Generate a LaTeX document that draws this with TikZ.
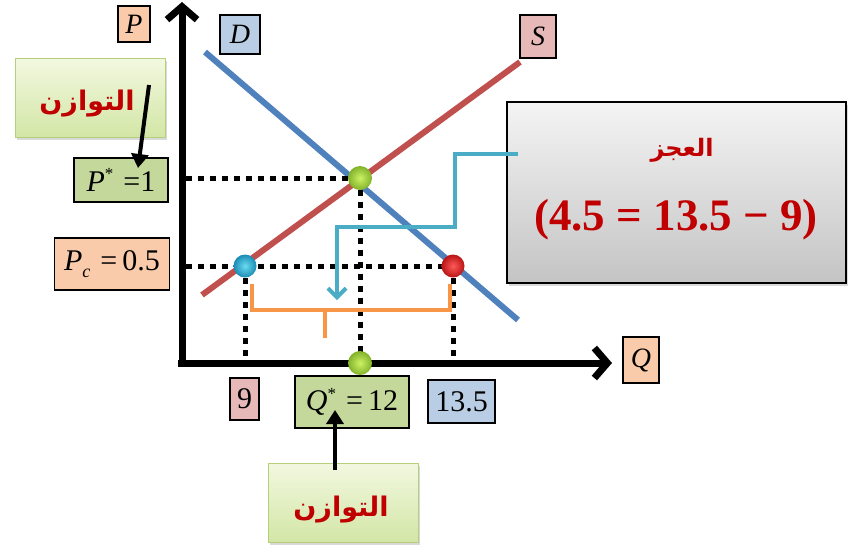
\documentclass[tikz,border=0pt]{standalone}
\usepackage{fontspec}
\setmainfont{Liberation Serif}
\newfontfamily\arabicfont[Script=Arabic]{DejaVu Sans}
\TeXXeTstate=1
\usetikzlibrary{arrows.meta,shadows}
\definecolor{lblorange}{HTML}{F9CBAA}
\definecolor{lblgreen}{HTML}{C4D89B}
\definecolor{lblpink}{HTML}{E6B9B8}
\definecolor{lblblue}{HTML}{B9CDE5}
\definecolor{demandc}{HTML}{4F81BD}
\definecolor{supplyc}{HTML}{C0504D}
\definecolor{cyanc}{HTML}{4BACC6}
\definecolor{bracec}{HTML}{F79646}
\definecolor{calltop}{HTML}{F2F8E0}
\definecolor{callbot}{HTML}{D3E6A6}
\definecolor{callline}{HTML}{B5CF7A}
\definecolor{txtred}{HTML}{C00000}
\definecolor{greytop}{HTML}{F4F4F4}
\definecolor{greybot}{HTML}{C4C4C4}
\definecolor{gin}{HTML}{CCF266}
\definecolor{gout}{HTML}{82B22A}
\definecolor{bin}{HTML}{6ADCF2}
\definecolor{bout}{HTML}{1A8CB4}
\definecolor{rin}{HTML}{FF5A5A}
\definecolor{rout}{HTML}{B81414}
\begin{document}
\begin{tikzpicture}[x=1pt,y=-1pt,
  lbl/.style={draw=black, line width=1.2pt, inner sep=0pt, font=\fontsize{30}{32}\selectfont},
  axlbl/.style={lbl, font=\itshape\fontsize{28}{30}\selectfont},
  callout/.style={draw=callline, line width=0.8pt, top color=calltop, bottom color=callbot,
    drop shadow={opacity=0.3,shadow xshift=2pt,shadow yshift=-3pt},
    minimum width=150pt, minimum height=79pt, inner sep=0pt},
  arab/.style={text=txtred, font=\arabicfont\bfseries\fontsize{27}{30}\selectfont},
  axisline/.style={line width=7pt, -{Straight Barb[length=13pt,width=30pt]}},
  dots/.style={line width=5pt, dash pattern=on 6pt off 6pt},
  ball/.style={circle, minimum size=24pt, inner sep=0pt},
  ptr/.style={line width=4pt, -{Triangle[length=14pt,width=17pt]}},
  curve/.style={line width=6pt},
  bracket/.style={bracec, line width=4pt},
]
\useasboundingbox (0,0) rectangle (849,550);

% big grey box
\node[draw=black, line width=1.5pt, top color=greytop, bottom color=greybot,
  drop shadow={opacity=0.3,shadow xshift=2pt,shadow yshift=-3pt},
  minimum width=339pt, minimum height=181pt, inner sep=0pt] (gbox) at (676.5,192.5) {};
\node[arab, font=\arabicfont\bfseries\fontsize{24}{28}\selectfont] (ajz) at (682,150) {\beginR العجز\endR};
\node[text=txtred, font=\bfseries\fontsize{45}{48}\selectfont] (eqn) at (676,220)
  {(4.5 = 13.5 − 9)};

% curves
\coordinate (D0) at (205,52); \coordinate (D1) at (518,320);
\coordinate (S0) at (202,295); \coordinate (S1) at (520,62);
\draw[demandc, curve] (D0) -- (D1);
\draw[supplyc, curve] (S0) -- (S1);

% key points
\coordinate (O) at (182,363);
\coordinate (E) at (360,178);
\coordinate (Eq) at (360,363);
\coordinate (B) at (245,266);
\coordinate (R) at (453,266);
\coordinate (yP) at (186,178);
\coordinate (yPc) at (186,266);

% dotted guides
\draw[dots] (yP) -- (E);
\draw[dots] (yPc) -- (R);
\draw[dots] (E) -- (Eq);
\draw[dots] (B) -- (B|-O);
\draw[dots] (R) -- (R|-O);

% bracket
\draw[bracket] (252,284) -- (252,310) -- (450,310) -- (450,284);
\draw[bracket] (325,310) -- (325,338);

% cyan connector from box
\coordinate (cy0) at (518,154);
\coordinate (cy1) at (337,300);
\draw[cyanc, line width=4pt, -{Straight Barb[length=9pt,width=18pt]}]
  (cy0) -- (455,154) -- (455,227) -- (337,227) -- (cy1);

% axes
\draw[axisline] (182,367) -- (182,2);
\draw[axisline] (178,363) -- (612,363);

% balls
\node[ball, inner color=gin, outer color=gout] (Eb) at (E) {};
\node[ball, inner color=gin, outer color=gout] (Eqb) at (Eq) {};
\node[ball, inner color=bin, outer color=bout, minimum size=23pt] (Bb) at (B) {};
\node[ball, inner color=rin, outer color=rout, minimum size=23pt] (Rb) at (R) {};

% axis labels
\node[axlbl, fill=lblorange, minimum width=32pt, minimum height=36pt] (Plbl) at (134,24) {P};
\node[axlbl, fill=lblblue, minimum width=40pt, minimum height=39pt] (Dlbl) at (240,34.5) {D};
\node[axlbl, fill=lblpink, minimum width=36pt, minimum height=43pt] (Slbl) at (538,36.5) {S};
\node[axlbl, fill=lblorange, minimum width=36pt, minimum height=46pt] (Qlbl) at (641,360) {Q};

% value labels
\node[lbl, fill=lblgreen, minimum width=94pt, minimum height=44pt] (Pstar) at (121,180)
  {{\itshape P}\raisebox{0.38em}{\fontsize{17}{17}\selectfont *}\,\,=1};
\node[lbl, fill=lblorange, minimum width=115pt, minimum height=52pt] (Pc) at (112,264)
  {{\itshape P}\raisebox{-0.25em}{\fontsize{18}{18}\selectfont\itshape c}\,\,=\,0.5};
\node[lbl, fill=lblpink, minimum width=29pt, minimum height=42pt] (n9) at (244.5,399) {9};
\node[lbl, fill=lblgreen, minimum width=114pt, minimum height=52pt] (Qstar) at (352,402)
  {{\itshape Q}\raisebox{0.38em}{\fontsize{17}{17}\selectfont *}\,\,=\,12};
\node[lbl, fill=lblblue, minimum width=67pt, minimum height=43pt] (n135) at (461.5,401.5) {13.5};

% callouts
\node[callout] (callT) at (90,97.5) {};
\node[arab] (tT) at (87,104) {\beginR التوازن\endR};
\node[callout] (callB) at (343,502.5) {};
\node[arab] (tB) at (341,510) {\beginR التوازن\endR};

\coordinate (aT0) at (149,85);
\coordinate (aT1) at (138,168);
\draw[ptr] (aT0) -- (aT1);
\coordinate (aB0) at (335,470);
\coordinate (aB1) at (335,410);
\draw[ptr] (aB0) -- (aB1);
\end{tikzpicture}
\end{document}
